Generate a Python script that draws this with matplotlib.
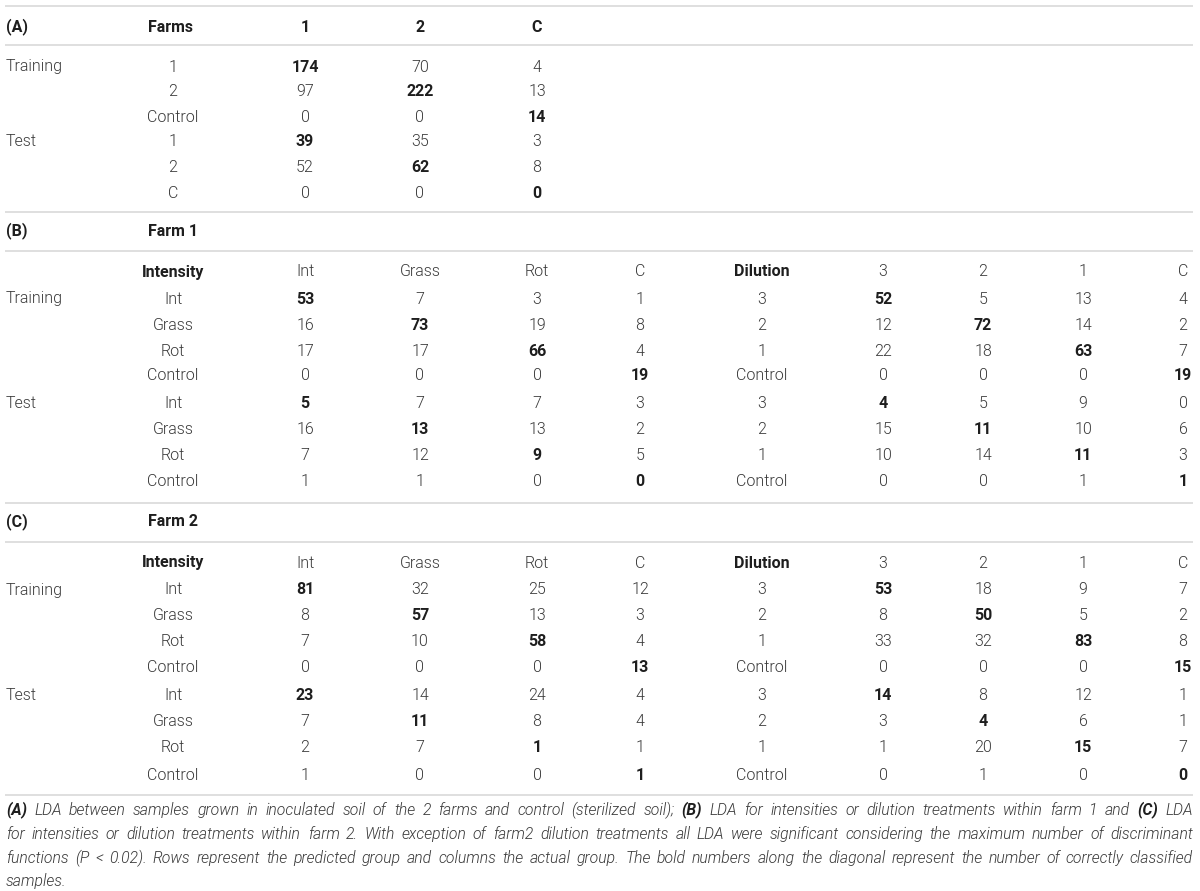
import matplotlib
matplotlib.use('Agg')
import matplotlib.pyplot as plt

# table A: farms
a_cols = ['1', '2', 'C']
a_rows = ['1', '2', 'Control', '1', '2', 'C']
a_vals = [[174, 70, 4], [97, 222, 13], [0, 0, 14],
          [39, 35, 3], [52, 62, 8], [0, 0, 0]]

# tables B and C: intensity / dilution
int_cols = ['Int', 'Grass', 'Rot', 'C']
int_rows = ['Int', 'Grass', 'Rot', 'Control'] * 2
dil_cols = ['3', '2', '1', 'C']
dil_rows = ['3', '2', '1', 'Control'] * 2

b_int = [[53, 7, 3, 1], [16, 73, 19, 8], [17, 17, 66, 4], [0, 0, 0, 19],
         [5, 7, 7, 3], [16, 13, 13, 2], [7, 12, 9, 5], [1, 1, 0, 0]]
b_dil = [[52, 5, 13, 4], [12, 72, 14, 2], [22, 18, 63, 7], [0, 0, 0, 19],
         [4, 5, 9, 0], [15, 11, 10, 6], [10, 14, 11, 3], [0, 0, 1, 1]]
c_int = [[81, 32, 25, 12], [8, 57, 13, 3], [7, 10, 58, 4], [0, 0, 0, 13],
         [23, 14, 24, 4], [7, 11, 8, 4], [2, 7, 1, 1], [1, 0, 0, 1]]
c_dil = [[53, 18, 9, 7], [8, 50, 5, 2], [33, 32, 83, 8], [0, 0, 0, 15],
         [14, 8, 12, 1], [3, 4, 6, 1], [1, 20, 15, 7], [0, 1, 0, 0]]

caption = [
    [('(A)', 1), ('LDA between samples grown in inoculated soil of the 2 farms and control (sterilized soil);', 0),
     ('(B)', 1), ('LDA for intensities or dilution treatments within farm 1 and', 0), ('(C)', 1), ('LDA', 0)],
    [('for intensities or dilution treatments within farm 2. With exception of farm2 dilution treatments '
      'all LDA were significant considering the maximum number of discriminant', 0)],
    [('functions (P < 0.02). Rows represent the predicted group and columns the actual group. '
      'The bold numbers along the diagonal represent the number of correctly classified', 0)],
    [('samples.', 0)],
]

FONT = 'Roboto'
FS = 11.5
GREY = '#3a3a3a'
DARK = '#1e1e1e'

fig = plt.figure(figsize=(12, 8.91), dpi=100)
ax = fig.add_axes([0, 0, 1, 1])
ax.set_xlim(0, 1200)
ax.set_ylim(891, 0)
ax.axis('off')

# column centres
xlab = 6
xrow = 173
xv = [305, 420, 537, 640]
xv2 = [762, 883, 983, 1083, 1183]

def txt(x, y, s, bold=False, ha='center'):
    ax.text(x, y, s, ha=ha, va='center', fontsize=FS, family=FONT,
            fontweight='bold' if bold else 300, color=DARK if bold else GREY)

# rules
for y in [6, 45, 212, 251, 503, 542, 795]:
    ax.hlines(y, 5, 1193, color='#dcdcdc', lw=1.3)

# (A)
txt(xlab, 27, '(A)', True, 'left')
txt(148, 27, 'Farms', True, 'left')
for j, c in enumerate(a_cols):
    txt(xv[j], 27, c, True)
ya = [67, 92, 117, 142, 167, 193]
for i, r in enumerate(a_rows):
    if i == 0:
        txt(xlab, ya[i], 'Training', ha='left')
    if i == 3:
        txt(xlab, ya[i], 'Test', ha='left')
    txt(xrow, ya[i], r)
    for j, v in enumerate(a_vals[i]):
        txt(xv[j], ya[i], str(v), bold=(i % 3 == j))

def block(tag, farm, ytag, yhead, yrows, tint, tdil):
    txt(xlab, ytag, tag, True, 'left')
    txt(148, ytag, farm, True, 'left')
    txt(xrow, yhead, 'Intensity', True)
    for j, c in enumerate(int_cols):
        txt(xv[j], yhead, c)
    txt(xv2[0], yhead, 'Dilution', True)
    for j, c in enumerate(dil_cols):
        txt(xv2[j + 1], yhead, c)
    for i in range(8):
        y = yrows[i]
        if i == 0:
            txt(xlab, y, 'Training', ha='left')
        if i == 4:
            txt(xlab, y, 'Test', ha='left')
        txt(xrow, y, int_rows[i])
        txt(xv2[0], y, dil_rows[i])
        for j in range(4):
            txt(xv[j], y, str(tint[i][j]), bold=(i % 4 == j))
            txt(xv2[j + 1], y, str(tdil[i][j]), bold=(i % 4 == j))

block('(B)', 'Farm 1', 231, 272, [299, 325, 351, 376, 403, 429, 456, 482], b_int, b_dil)
block('(C)', 'Farm 2', 522, 563, [590, 616, 642, 668, 695, 721, 748, 775], c_int, c_dil)

# caption, justified word by word
renderer = fig.canvas.get_renderer()
cap_y = [810, 834, 858, 881]
x0, x1 = 6, 1193
inv = ax.transData.inverted()

def place_line(li, line, fs):
    words = []
    for s, b in line:
        for w in s.split(' '):
            t = ax.text(0, cap_y[li], w, ha='left', va='center', fontsize=fs, family=FONT,
                        style='italic', fontweight='bold' if b else 300,
                        color=DARK if b else GREY)
            words.append(t)
    widths = []
    for t in words:
        bb = t.get_window_extent(renderer)
        p0 = inv.transform((bb.x0, bb.y0))
        p1 = inv.transform((bb.x1, bb.y0))
        widths.append(p1[0] - p0[0])
    return words, widths

for li, line in enumerate(caption):
    fs = 11.3
    words, widths = place_line(li, line, fs)
    if li < len(caption) - 1:
        gap = (x1 - x0 - sum(widths)) / (len(words) - 1)
        while gap < 2.6:
            for t in words:
                t.remove()
            fs -= 0.1
            words, widths = place_line(li, line, fs)
            gap = (x1 - x0 - sum(widths)) / (len(words) - 1)
    else:
        gap = 3.2
    x = x0
    for t, w in zip(words, widths):
        t.set_x(x)
        x += w + gap

fig.savefig('out.png', dpi=100, facecolor='white')
